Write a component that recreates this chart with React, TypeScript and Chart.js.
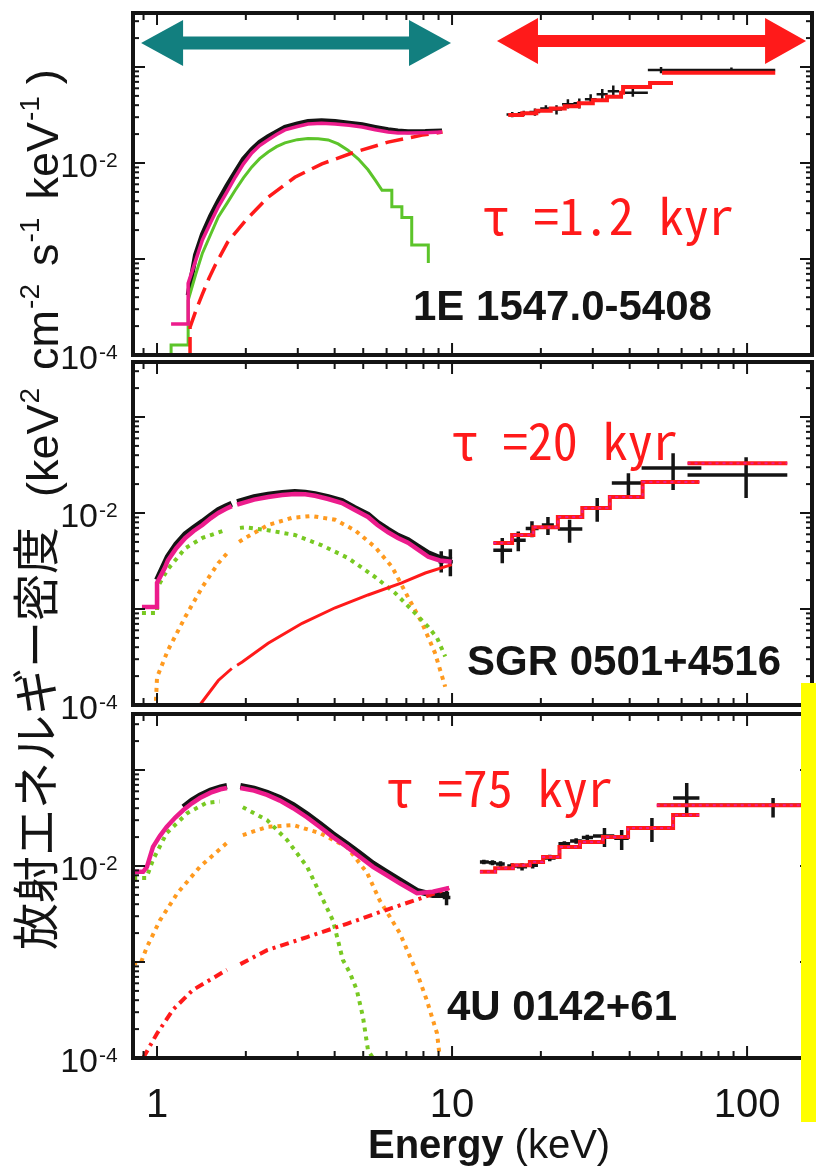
import React, { useEffect, useRef } from "react";
import { Chart, registerables } from "chart.js";

Chart.register(...registerables);

// ---------------------------------------------------------------------------
// Page / axis set-up
// ---------------------------------------------------------------------------
const PAGE_W = 816;
const PAGE_H = 1166;
const PLOT_LEFT = 133;
const PLOT_RIGHT = 812;
const PANELS = [
  { top: 13, bottom: 355 },
  { top: 362, bottom: 705 },
  { top: 714, bottom: 1058 },
];

const E_MIN = 0.829; // keV
const E_MAX = 166;
const F_MIN = 1e-4;
const F_MAX = [0.365, 0.374, 0.383];
const X_TICKS = [1, 10, 100];
const Y_LABELS = [1e-2, 1e-4];

const PINK = "#ec1c8c";
const GREEN = "#5cc42a";
const GREEN_DOT = "#78c922";
const ORANGE = "#ff9a1f";
const RED = "#ff1a1a";
const BLACK = "#141414";
const TEAL = "#127f7f";
const YELLOW = "#ffff00";

const SANS = "'Liberation Sans', Arial, Helvetica, sans-serif";
const CJK = "'Noto Sans CJK JP', sans-serif";
const MONO_JP = "'Noto Sans Mono CJK JP', 'Noto Sans CJK JP', monospace";

const SOURCES = ["1E 1547.0-5408", "SGR 0501+4516", "4U 0142+61"];
const AGES = ["τ =1.2 kyr", "τ =20 kyr", "τ =75 kyr"];
const Y_TITLE_JA = "放射エネルギー密度";
const Y_TITLE_UNITS: [string, string][] = [
  ["(keV", "2"],
  ["cm", "-2"],
  ["s", "-1"],
  ["keV", "-1"],
  [")", ""],
];

// Arrows marking the soft and hard X-ray bands (keV)
const SOFT_BAND = [0.883, 9.92];
const HARD_BAND = [14.2, 158.5];
const BAND_LEVEL = [0.178, 0.186];

// ---------------------------------------------------------------------------
// 1E 1547.0-5408
// ---------------------------------------------------------------------------
const p1TotE = [1.116, 1.275, 1.275, 1.35, 1.425, 1.519, 1.613, 1.726, 1.84, 1.963, 2.096, 2.228, 2.38, 2.542, 2.713, 2.989, 3.248, 3.612, 4.015, 4.477, 4.959, 5.49, 6.071, 6.554, 7.09, 8.114, 9.247];
const p1TotF = [2.1e-4, 2.1e-4, 5.6e-4, 9.5e-4, 1.58e-3, 2.4e-3, 3.5e-3, 5.0e-3, 7.1e-3, 9.8e-3, 0.0127, 0.0152, 0.0174, 0.0198, 0.0221, 0.024, 0.0255, 0.026, 0.0255, 0.0247, 0.0237, 0.0222, 0.021, 0.0205, 0.0205, 0.0207, 0.021];
const p1ObsE = [1.275, 1.35, 1.425, 1.519, 1.613, 1.726, 1.84, 1.963, 2.096, 2.228, 2.38, 2.542, 2.713, 2.989, 3.248, 3.612, 4.015, 4.477, 4.959, 5.49, 6.071, 6.554, 7.09, 8.114, 9.247];
const p1ObsF = [4.2e-4, 1.1e-3, 1.8e-3, 2.8e-3, 4.0e-3, 5.8e-3, 8.0e-3, 0.011, 0.0138, 0.0165, 0.0188, 0.021, 0.0235, 0.0255, 0.027, 0.0275, 0.027, 0.026, 0.025, 0.0235, 0.0222, 0.0215, 0.0212, 0.0213, 0.0216];
const p1BbE = [1.116, 1.116, 1.275, 1.275, 1.35, 1.425, 1.519, 1.613, 1.726, 1.84, 1.963, 2.096, 2.228, 2.38, 2.542, 2.713, 2.989, 3.248, 3.516, 3.804, 4.111, 4.438, 4.813, 5.19, 5.5, 5.79, 6.25, 6.25, 6.76, 6.76, 7.3, 7.3, 8.31, 8.31];
const p1BbF = [1.0e-4, 1.27e-4, 1.27e-4, 3.7e-4, 6.8e-4, 1.15e-3, 1.8e-3, 2.74e-3, 3.8e-3, 5.2e-3, 7.0e-3, 9.1e-3, 0.0111, 0.013, 0.0148, 0.0162, 0.0175, 0.018, 0.0179, 0.0174, 0.0158, 0.0136, 0.011, 8.5e-3, 6.6e-3, 5.2e-3, 5.2e-3, 3.5e-3, 3.5e-3, 2.7e-3, 2.7e-3, 1.4e-3, 1.4e-3, 9.1e-4];
const p1PlE = [1.294, 1.294, 1.36, 1.425, 1.5, 1.58, 1.736, 1.991, 2.38, 2.932, 3.622, 4.581, 6.071, 7.919, 9.286];
const p1PlF = [1.0e-4, 1.95e-4, 3.0e-4, 4.3e-4, 6.3e-4, 8.8e-4, 1.5e-3, 2.5e-3, 4.4e-3, 7.1e-3, 9.8e-3, 0.0127, 0.0165, 0.0195, 0.021];
const p1HxE = [15.5, 17.3, 19.3, 21.6, 24.1, 26.9, 30.0, 33.5, 37.4, 38.0, 46.9, 56.1, 56.1, 51.5, 124.6];
const p1HxF = [0.0316, 0.033, 0.035, 0.037, 0.039, 0.042, 0.045, 0.049, 0.054, 0.062, 0.068, 0.068, null, 0.087, 0.087];
const p1ErrE = [16.0, 17.5, 19.1, 20.8, 22.6, 24.7, 27.0, 29.5, 32.3, 35.2, 41.0, 51.1, 88.5];
const p1ErrLo = [15.3, 16.7, 18.3, 19.9, 21.6, 23.6, 25.8, 28.2, 30.9, 33.7, 36.8, 46.1, 56.2];
const p1ErrHi = [16.7, 18.3, 19.9, 21.6, 23.6, 25.8, 28.2, 30.9, 33.7, 36.8, 46.1, 56.2, 124.6];
const p1ErrF = [0.032, 0.033, 0.034, 0.037, 0.036, 0.041, 0.042, 0.046, 0.052, 0.056, 0.054, 0.093, 0.093];
const p1ErrFLo = [0.03, 0.031, 0.031, 0.034, 0.032, 0.037, 0.037, 0.041, 0.046, 0.049, 0.049, 0.086, 0.087];
const p1ErrFHi = [0.034, 0.035, 0.037, 0.04, 0.04, 0.046, 0.047, 0.052, 0.059, 0.064, 0.06, 0.1, 0.099];

// ---------------------------------------------------------------------------
// SGR 0501+4516
// ---------------------------------------------------------------------------
const p2TotE = [0.889, 1.0, 1.0, 1.064, 1.088, 1.162, 1.247, 1.331, 1.425, 1.519, 1.613, 1.708, 1.792, 1.821, 1.868, 1.944, 2.133, 2.38, 2.656, 2.932, 3.181, 3.43, 3.804, 4.237, 4.668, 5.19, 5.587, 6.071, 6.554, 7.09, 7.625, 8.309, 9.092, 9.97];
const p2TotF = [1.05e-3, 1.05e-3, 1.87e-3, 2.7e-3, 3.2e-3, 4.3e-3, 5.5e-3, 6.5e-3, 7.5e-3, 8.8e-3, 0.01, 0.011, 0.0118, null, 0.0122, 0.0127, 0.0138, 0.0147, 0.0154, 0.0158, 0.0157, 0.0151, 0.014, 0.0127, 0.0108, 9.1e-3, 7.5e-3, 6.3e-3, 5.5e-3, 4.9e-3, 4.2e-3, 3.5e-3, 3.2e-3, 3.1e-3];
const p2ObsE = [1.0, 1.088, 1.162, 1.247, 1.331, 1.425, 1.519, 1.613, 1.708, 1.792, 1.821, 1.868, 2.133, 2.38, 2.656, 2.932, 3.181, 3.43, 3.804, 4.237, 4.668, 5.19, 5.587, 6.071, 6.554, 7.09, 7.625, 8.309, 9.092, 9.97];
const p2ObsF = [2.0e-3, 3.5e-3, 4.7e-3, 6.0e-3, 7.0e-3, 8.1e-3, 9.4e-3, 0.0107, 0.0117, 0.0125, null, 0.013, 0.0146, 0.0155, 0.0162, 0.0165, 0.0163, 0.0157, 0.0146, 0.0133, 0.0113, 9.6e-3, 7.9e-3, 6.7e-3, 5.8e-3, 5.2e-3, 4.5e-3, 3.8e-3, 3.4e-3, 3.2e-3];
const p2BbE = [0.889, 1.0, 1.0, 1.088, 1.247, 1.425, 1.698, 1.8, 1.91, 1.991, 2.38, 2.932, 3.622, 4.438, 5.49, 6.409, 7.304, 8.309, 8.896, 9.48];
const p2BbF = [9.1e-4, 9.1e-4, 1.66e-3, 2.6e-3, 4.3e-3, 5.5e-3, 6.6e-3, null, 7.0e-3, 7.1e-3, 6.6e-3, 5.9e-3, 4.6e-3, 3.4e-3, 2.15e-3, 1.47e-3, 9.8e-4, 6.5e-4, 5.0e-4, 3.2e-4];
const p2BbE2 = [0.889, 0.99, 1.0, 1.088, 1.247, 1.425, 1.613, 1.764, 1.82, 1.897, 1.991, 2.38, 2.865, 3.344, 4.015, 4.688, 5.49, 6.264, 7.09, 7.919, 8.748, 9.48];
const p2BbF2 = [1.0e-4, 1.0e-4, 1.94e-4, 3.7e-4, 8.3e-4, 1.7e-3, 3.0e-3, 4.1e-3, null, 5.0e-3, 5.5e-3, 7.5e-3, 8.9e-3, 9.3e-3, 8.5e-3, 6.6e-3, 4.4e-3, 2.74e-3, 1.33e-3, 7.1e-4, 3.5e-4, 1.55e-4];
const p2PlE = [1.397, 1.613, 1.792, 1.821, 1.868, 1.944, 2.38, 3.104, 4.015, 5.19, 6.75, 8.114, 9.97];
const p2PlF = [1.0e-4, 1.8e-4, 2.4e-4, null, 2.6e-4, 2.8e-4, 4.4e-4, 7.1e-4, 1.03e-3, 1.4e-3, 1.87e-3, 2.37e-3, 2.9e-3];
const p2HxE = [13.8, 15.98, 18.86, 22.84, 27.64, 34.27, 44.26, 68.94, 68.94, 62.84, 136.9];
const p2HxF = [0.00487, 0.0059, 0.0071, 0.0091, 0.0113, 0.0147, 0.021, 0.021, null, 0.033, 0.033];
const p2ErrE = [9.19, 9.87, 14.8, 16.77, 18.66, 21.14, 25.03, 31.05, 39.61, 56.14, 99.25];
const p2ErrLo = [9.0, 9.68, 13.8, 15.98, 17.77, 20.15, 22.84, 28.94, 34.8, 43.9, 62.84];
const p2ErrHi = [9.38, 10.06, 15.98, 17.77, 19.65, 22.14, 27.64, 33.26, 44.26, 70.0, 136.9];
const p2ErrF = [0.0031, 0.0031, 0.0041, 0.0052, 0.0069, 0.0075, 0.0068, 0.0113, 0.0205, 0.0294, 0.0249];
const p2ErrFLo = [0.0024, 0.0022, 0.003, 0.004, 0.0056, 0.0059, 0.0049, 0.0081, 0.0154, 0.0174, 0.0143];
const p2ErrFHi = [0.004, 0.0042, 0.0055, 0.0064, 0.0082, 0.0091, 0.0085, 0.0143, 0.026, 0.042, 0.038];

// ---------------------------------------------------------------------------
// 4U 0142+61
// ---------------------------------------------------------------------------
const p3TotE = [0.83, 0.897, 0.924, 0.969, 1.022, 1.078, 1.153, 1.228, 1.313, 1.397, 1.519, 1.641, 1.726, 1.82, 1.916, 2.133, 2.361, 2.609, 2.894, 3.228, 3.564, 3.948, 4.4, 4.862, 5.395, 5.973, 6.653, 7.605, 8.604, 9.775];
const p3TotF = [8.7e-3, 8.7e-3, 9.8e-3, 0.0158, 0.0205, 0.0255, 0.032, 0.0383, 0.045, 0.051, 0.058, 0.063, 0.065, null, 0.065, 0.061, 0.055, 0.048, 0.04, 0.032, 0.0255, 0.02, 0.0158, 0.0125, 0.0098, 0.0081, 0.0066, 0.0052, 0.0054, 0.0059];
const p3ObsE = [1.228, 1.313, 1.397, 1.519, 1.641, 1.726, 1.82, 1.916, 2.133, 2.361, 2.609, 2.894, 3.228, 3.564, 3.948, 4.4, 4.862, 5.395, 5.973, 6.653, 7.605, 8.604, 9.775];
const p3ObsF = [0.041, 0.048, 0.054, 0.061, 0.066, 0.068, null, 0.068, 0.064, 0.058, 0.051, 0.043, 0.0345, 0.0275, 0.0215, 0.017, 0.0135, 0.0106, 0.0087, 0.0071, 0.0055, 0.005, 0.005];
const p3BbE = [0.83, 0.92, 0.969, 1.078, 1.266, 1.472, 1.632, 1.8, 1.953, 2.361, 2.761, 3.228, 3.564, 3.948, 4.266, 4.506, 4.755, 4.987, 5.19, 5.395];
const p3BbF = [7.5e-3, 7.5e-3, 0.0116, 0.022, 0.0355, 0.0455, 0.047, null, 0.041, 0.03, 0.0186, 0.0098, 5.2e-3, 2.7e-3, 1.05e-3, 7.7e-4, 5.1e-4, 2.7e-4, 1.2e-4, 1.0e-4];
const p3BbE2 = [0.83, 0.88, 0.924, 1.022, 1.172, 1.397, 1.726, 1.82, 1.953, 2.361, 2.894, 3.564, 4.4, 5.151, 5.683, 6.653, 7.605, 8.211, 8.896, 9.092];
const p3BbF2 = [9.7e-4, 9.7e-4, 1.43e-3, 2.7e-3, 5.2e-3, 9.8e-3, 0.0174, null, 0.021, 0.0255, 0.0267, 0.022, 0.0158, 8.5e-3, 4.4e-3, 2.0e-3, 7.7e-4, 4.0e-4, 1.8e-4, 1.0e-4];
const p3PlE = [0.897, 1.0, 1.134, 1.322, 1.726, 1.82, 1.916, 2.361, 3.228, 4.4, 6.002, 7.821, 9.775];
const p3PlF = [1.0e-4, 1.8e-4, 3.2e-4, 5.1e-4, 8.3e-4, null, 9.5e-4, 1.33e-3, 1.82e-3, 2.5e-3, 3.5e-3, 4.6e-3, 5.9e-3];
const p3HxE = [12.43, 14.0, 16.08, 18.36, 20.35, 23.13, 27.14, 32.46, 39.51, 56.14, 68.94, 68.94, 49.42, 173];
const p3HxF = [0.0087, 0.0095, 0.0102, 0.011, 0.0124, 0.0158, 0.0178, 0.02, 0.0249, 0.034, 0.034, null, 0.043, 0.043];
const p3ErrE = [9.58, 12.82, 13.71, 14.6, 15.98, 17.27, 18.76, 21.44, 24.03, 26.34, 28.74, 32.86, 37.58, 47.59, 62.44, 122.5];
const p3ErrLo = [9.3, 12.43, 13.32, 14.1, 15.39, 16.58, 17.96, 20.45, 22.94, 25.13, 27.54, 30.04, 35.48, 40.02, 56.14, 49.62];
const p3ErrHi = [9.87, 13.32, 14.1, 15.09, 16.58, 17.96, 19.55, 22.44, 25.13, 27.54, 30.04, 35.48, 39.71, 56.14, 68.94, 173];
const p3ErrF = [0.0047, 0.011, 0.0108, 0.0105, 0.01, 0.0098, 0.0102, 0.0121, 0.017, 0.0182, 0.0198, 0.0205, 0.0195, 0.0249, 0.051, 0.043];
const p3ErrFLo = [0.0039, 0.0104, 0.0102, 0.0098, 0.0093, 0.009, 0.0094, 0.0112, 0.016, 0.017, 0.0184, 0.0158, 0.0147, 0.0178, 0.0323, 0.032];
const p3ErrFHi = [0.0055, 0.0116, 0.0115, 0.0112, 0.0107, 0.0107, 0.0111, 0.0131, 0.0181, 0.0195, 0.0212, 0.0249, 0.0237, 0.0316, 0.073, 0.051];

// ---------------------------------------------------------------------------
// Dataset helpers
// ---------------------------------------------------------------------------
type Pt = { x: number; y: number | null };

const pts = (xs: number[], ys: (number | null)[]): Pt[] =>
  xs.map((x, i) => ({ x, y: ys[i] }));

// Each measurement becomes a horizontal (bin width) and a vertical (1σ) bar.
const crossPts = (
  e: number[],
  lo: number[],
  hi: number[],
  f: number[],
  flo: number[],
  fhi: number[]
): Pt[] => {
  const out: Pt[] = [];
  e.forEach((x, i) => {
    out.push({ x: lo[i], y: f[i] }, { x: hi[i], y: f[i] }, { x: hi[i], y: null });
    out.push({ x, y: flo[i] }, { x, y: fhi[i] }, { x, y: null });
  });
  return out;
};

const series = (data: Pt[], color: string, width: number, extra: any = {}) => ({
  data,
  borderColor: color,
  backgroundColor: color,
  borderWidth: width,
  pointRadius: 0,
  pointHoverRadius: 0,
  fill: false,
  tension: 0,
  spanGaps: false,
  borderCapStyle: "butt",
  ...extra,
});

const DOTS = [4, 5];
// histogram models: each value holds until the next bin edge
const HIST = "before";

const panel1Datasets = () => [
  series(pts(p1TotE, p1TotF), PINK, 3.5, { order: 1 }),
  series(pts(p1PlE, p1PlF), RED, 3.5, { order: 2, borderDash: [18, 8] }),
  series(pts(p1HxE, p1HxF), RED, 4, { order: 2, stepped: HIST }),
  series(pts(p1BbE, p1BbF), GREEN, 3, { order: 3 }),
  series(crossPts(p1ErrE, p1ErrLo, p1ErrHi, p1ErrF, p1ErrFLo, p1ErrFHi), BLACK, 2.5, { order: 4 }),
  series(pts(p1ObsE, p1ObsF), BLACK, 5, { order: 5 }),
];

const panel2Datasets = () => [
  series(pts(p2TotE, p2TotF), PINK, 4.5, { order: 1 }),
  series(pts(p2HxE, p2HxF), PINK, 2, { order: 2, stepped: HIST, borderDash: [3, 4] }),
  series(pts(p2HxE, p2HxF), RED, 4, { order: 3, stepped: HIST }),
  series(pts(p2PlE, p2PlF), RED, 3, { order: 4 }),
  series(pts(p2BbE, p2BbF), GREEN_DOT, 4, { order: 4, borderDash: DOTS }),
  series(pts(p2BbE2, p2BbF2), ORANGE, 4, { order: 4, borderDash: DOTS }),
  series(crossPts(p2ErrE, p2ErrLo, p2ErrHi, p2ErrF, p2ErrFLo, p2ErrFHi), BLACK, 3.5, { order: 5 }),
  series(pts(p2ObsE, p2ObsF), BLACK, 6, { order: 6 }),
];

const panel3Datasets = () => [
  series(pts(p3TotE, p3TotF), PINK, 4.5, { order: 1 }),
  series(pts(p3HxE, p3HxF), PINK, 2, { order: 2, stepped: HIST, borderDash: [3, 4] }),
  series(pts(p3HxE, p3HxF), RED, 4, { order: 3, stepped: HIST }),
  series(pts(p3PlE, p3PlF), RED, 4, { order: 4, borderDash: [9, 5, 3, 5] }),
  series(pts(p3BbE, p3BbF), GREEN_DOT, 4, { order: 4, borderDash: DOTS }),
  series(pts(p3BbE2, p3BbF2), ORANGE, 4, { order: 4, borderDash: DOTS }),
  series(crossPts(p3ErrE, p3ErrLo, p3ErrHi, p3ErrF, p3ErrFLo, p3ErrFHi), BLACK, 3.5, { order: 5 }),
  series(pts(p3ObsE, p3ObsF), BLACK, 6, { order: 6 }),
];

// ---------------------------------------------------------------------------
// Drawing helpers
// ---------------------------------------------------------------------------
const seg = (ctx: CanvasRenderingContext2D, x1: number, y1: number, x2: number, y2: number) => {
  ctx.beginPath();
  ctx.moveTo(x1, y1);
  ctx.lineTo(x2, y2);
  ctx.stroke();
};

// Box frame with inward log ticks on all four sides, plus 10^n labels.
const framePlugin = {
  id: "frame",
  afterDatasetsDraw(chart: any) {
    const { ctx, chartArea: a, scales } = chart;
    const xs = scales.x;
    const ys = scales.y;
    ctx.save();
    ctx.strokeStyle = BLACK;
    ctx.lineWidth = 2;
    for (let d = -1; d <= 2; d++) {
      for (let k = 1; k <= 9; k++) {
        const v = k * Math.pow(10, d);
        if (v < E_MIN || v > E_MAX) continue;
        const px = xs.getPixelForValue(v);
        const len = k === 1 ? 12 : 7;
        seg(ctx, px, a.bottom, px, a.bottom - len);
        seg(ctx, px, a.top, px, a.top + len);
      }
    }
    for (let d = -4; d <= -1; d++) {
      for (let k = 1; k <= 9; k++) {
        const v = k * Math.pow(10, d);
        if (v < ys.min || v > ys.max) continue;
        const py = ys.getPixelForValue(v);
        const len = k === 1 ? 12 : 6;
        seg(ctx, a.left, py, a.left + len, py);
        seg(ctx, a.right, py, a.right - len, py);
      }
    }
    ctx.lineWidth = 4;
    ctx.strokeRect(a.left, a.top, a.right - a.left, a.bottom - a.top);

    ctx.fillStyle = BLACK;
    ctx.textBaseline = "alphabetic";
    Y_LABELS.forEach((v) => {
      const py = ys.getPixelForValue(v);
      const exp = String(Math.round(Math.log10(v)));
      ctx.font = `34px ${SANS}`;
      ctx.textAlign = "right";
      ctx.fillText("10", 98, py + 14);
      ctx.font = `21px ${SANS}`;
      ctx.textAlign = "left";
      ctx.fillText(exp, 99, py + 4);
    });
    ctx.restore();
  },
};

const doubleArrow = (
  ctx: CanvasRenderingContext2D,
  x1: number,
  x2: number,
  y: number,
  shaft: number,
  headLen: number,
  headHalf: number,
  color: string
) => {
  ctx.fillStyle = color;
  ctx.beginPath();
  ctx.moveTo(x1, y);
  ctx.lineTo(x1 + headLen, y - headHalf);
  ctx.lineTo(x1 + headLen, y - shaft / 2);
  ctx.lineTo(x2 - headLen, y - shaft / 2);
  ctx.lineTo(x2 - headLen, y - headHalf);
  ctx.lineTo(x2, y);
  ctx.lineTo(x2 - headLen, y + headHalf);
  ctx.lineTo(x2 - headLen, y + shaft / 2);
  ctx.lineTo(x1 + headLen, y + shaft / 2);
  ctx.lineTo(x1 + headLen, y + headHalf);
  ctx.closePath();
  ctx.fill();
};

const drawLabels = (ctx: CanvasRenderingContext2D, i: number, age: [number, number], name: [number, number]) => {
  ctx.save();
  ctx.textAlign = "left";
  ctx.textBaseline = "alphabetic";
  ctx.fillStyle = RED;
  ctx.font = `50px ${MONO_JP}`;
  ctx.fillText(AGES[i], age[0], age[1]);
  ctx.fillStyle = BLACK;
  ctx.font = `bold 42px ${SANS}`;
  ctx.fillText(SOURCES[i], name[0], name[1]);
  ctx.restore();
};

const drawPanel1 = (chart: any) => {
  const { ctx, scales } = chart;
  const xs = scales.x;
  const ys = scales.y;
  ctx.save();
  doubleArrow(ctx, xs.getPixelForValue(SOFT_BAND[0]), xs.getPixelForValue(SOFT_BAND[1]),
    ys.getPixelForValue(BAND_LEVEL[0]), 13, 42, 23, TEAL);
  doubleArrow(ctx, xs.getPixelForValue(HARD_BAND[0]), xs.getPixelForValue(HARD_BAND[1]),
    ys.getPixelForValue(BAND_LEVEL[1]), 12, 41, 23, RED);
  ctx.restore();
  drawLabels(ctx, 0, [483, 235], [413, 320]);
};

const drawPanel2 = (chart: any) => {
  drawLabels(chart.ctx, 1, [452, 460], [467, 675]);
};

const drawPanel3 = (chart: any) => {
  const { ctx } = chart;
  drawLabels(ctx, 2, [387, 807], [447, 1020]);

  // x-axis title
  ctx.save();
  ctx.fillStyle = BLACK;
  ctx.textAlign = "left";
  ctx.textBaseline = "alphabetic";
  ctx.font = `bold 40px ${SANS}`;
  ctx.fillText("Energy", 368, 1158);
  const w = ctx.measureText("Energy").width;
  ctx.font = `40px ${SANS}`;
  ctx.fillText("(keV)", 368 + w + 11, 1158);
  ctx.restore();

  // y-axis title, running upward along the left edge
  ctx.save();
  ctx.fillStyle = BLACK;
  ctx.textAlign = "left";
  ctx.textBaseline = "alphabetic";
  ctx.translate(53, 950);
  ctx.rotate(-Math.PI / 2);
  ctx.font = `47px ${CJK}`;
  ctx.fillText(Y_TITLE_JA, 0, 0);
  let pos = ctx.measureText(Y_TITLE_JA).width + 30;
  Y_TITLE_UNITS.forEach(([base, sup], i) => {
    ctx.font = `45px ${SANS}`;
    ctx.fillText(base, pos, 5);
    pos += ctx.measureText(base).width;
    if (sup) {
      ctx.font = `28px ${SANS}`;
      ctx.fillText(sup, pos + 1, 5 - 19);
      pos += ctx.measureText(sup).width + 1;
    }
    pos += i === Y_TITLE_UNITS.length - 2 ? 12 : 18;
  });
  ctx.restore();

  // highlight bar along the right edge
  ctx.save();
  ctx.fillStyle = YELLOW;
  ctx.fillRect(801, 683, 15, 439);
  ctx.restore();
};

// ---------------------------------------------------------------------------
// Chart configuration
// ---------------------------------------------------------------------------
const makeConfig = (i: number, datasets: any[], extra: (chart: any) => void): any => {
  const p = PANELS[i];
  const showX = i === PANELS.length - 1;
  const xAxis: any = {
    type: "logarithmic",
    min: E_MIN,
    max: E_MAX,
    display: showX,
    grid: { display: false },
    border: { display: false },
    afterBuildTicks: (s: any) => {
      s.ticks = X_TICKS.map((v) => ({ value: v }));
    },
    ticks: {
      color: BLACK,
      padding: 16,
      maxRotation: 0,
      autoSkip: false,
      font: { family: SANS, size: 40 },
      callback: (v: number) => String(v),
    },
  };
  if (showX) {
    xAxis.afterFit = (s: any) => {
      s.height = PAGE_H - p.bottom;
    };
  }
  return {
    type: "line",
    data: { datasets },
    options: {
      animation: false,
      responsive: false,
      maintainAspectRatio: false,
      events: [],
      layout: {
        padding: {
          left: PLOT_LEFT,
          right: PAGE_W - PLOT_RIGHT,
          top: p.top,
          bottom: showX ? 0 : PAGE_H - p.bottom,
        },
      },
      plugins: {
        legend: { display: false },
        tooltip: { enabled: false },
        title: { display: false },
      },
      scales: {
        x: xAxis,
        y: {
          type: "logarithmic",
          min: F_MIN,
          max: F_MAX[i],
          display: false,
        },
      },
    },
    plugins: [framePlugin, { id: "panelText", afterDraw: extra }],
  };
};

export default function App() {
  const c1 = useRef<HTMLCanvasElement>(null);
  const c2 = useRef<HTMLCanvasElement>(null);
  const c3 = useRef<HTMLCanvasElement>(null);

  useEffect(() => {
    const charts = [
      new Chart(c1.current as HTMLCanvasElement, makeConfig(0, panel1Datasets(), drawPanel1)),
      new Chart(c2.current as HTMLCanvasElement, makeConfig(1, panel2Datasets(), drawPanel2)),
      new Chart(c3.current as HTMLCanvasElement, makeConfig(2, panel3Datasets(), drawPanel3)),
    ];
    return () => charts.forEach((c) => c.destroy());
  }, []);

  const layer: React.CSSProperties = { position: "absolute", left: 0, top: 0 };
  return (
    <div
      style={{
        position: "absolute",
        left: 0,
        top: 0,
        width: PAGE_W,
        height: PAGE_H,
        background: "#ffffff",
        overflow: "hidden",
      }}
    >
      <canvas ref={c1} width={PAGE_W} height={PAGE_H} style={layer} />
      <canvas ref={c2} width={PAGE_W} height={PAGE_H} style={layer} />
      <canvas ref={c3} width={PAGE_W} height={PAGE_H} style={layer} />
    </div>
  );
}
